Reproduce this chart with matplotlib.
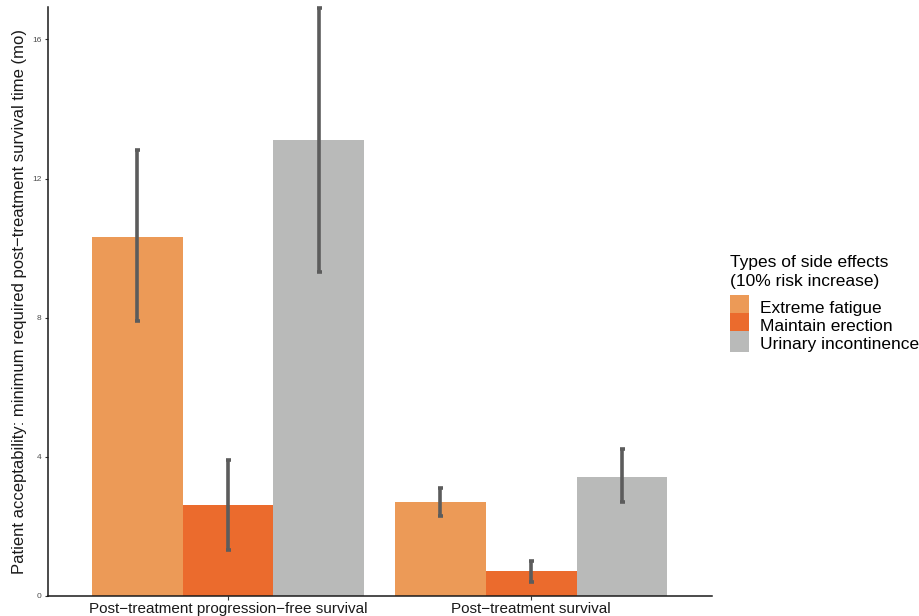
import numpy as np
import matplotlib
matplotlib.use("Agg")
import matplotlib.pyplot as plt
from matplotlib.patches import Patch, Rectangle
from matplotlib.legend_handler import HandlerPatch

plt.rcParams['font.family'] = ['Liberation Sans', 'DejaVu Sans']

# ---- data ----
groups = ["Post\u2212treatment progression\u2212free survival", "Post\u2212treatment survival"]
effects = ["Extreme fatigue", "Maintain erection", "Urinary incontinence"]
fatigue = [10.32, 2.70]
erection = [2.61, 0.72]
urinary = [13.10, 3.42]
fatigue_lo = [7.90, 2.30]
fatigue_hi = [12.82, 3.10]
erection_lo = [1.32, 0.40]
erection_hi = [3.90, 1.00]
urinary_lo = [9.31, 2.70]
urinary_hi = [16.90, 4.22]

colors = ["#EC9A57", "#EB6B2D", "#B9BAB9"]

fig = plt.figure(figsize=(9.2, 6.16), dpi=100)
ax = fig.add_axes([48 / 920, 20 / 616, (712 - 48) / 920, (596 - 7) / 616])

x = np.arange(1, len(groups) + 1)
w = 0.3
series = [(fatigue, fatigue_lo, fatigue_hi),
          (erection, erection_lo, erection_hi),
          (urinary, urinary_lo, urinary_hi)]
for i, (vals, lo, hi) in enumerate(series):
    pos = x + (i - 1) * w
    vals = np.array(vals)
    ax.bar(pos, vals, width=w, color=colors[i], edgecolor='none', zorder=1)
    yerr = [vals - np.array(lo), np.array(hi) - vals]
    ax.errorbar(pos, vals, yerr=yerr, fmt='none', ecolor='#5c5c5c',
                elinewidth=2.6, capsize=1.8, capthick=2.6, zorder=2, clip_on=False)

ax.set_xlim(0.406, 2.597)
ax.set_ylim(0, 16.93)
ax.set_yticks([0, 4, 8, 12, 16])
ax.set_xticks(x)
ax.set_xticklabels(groups, fontsize=11, color='#1a1a1a')
ax.tick_params(axis='y', labelsize=6, labelcolor='#4d4d4d', color='#333333',
               length=2.5, width=0.8, pad=2)
ax.tick_params(axis='x', color='#333333', length=3, width=0.8, pad=1)
ax.set_ylabel("Patient acceptability: minimum required post\u2212treatment survival time (mo)",
              fontsize=12, color='#1a1a1a', labelpad=4)

for s in ['top', 'right']:
    ax.spines[s].set_visible(False)
for s in ['left', 'bottom']:
    ax.spines[s].set_color('#1a1a1a')
    ax.spines[s].set_linewidth(1.1)


# legend keys fill the whole row, like ggplot's
def full_key(legend, orig_handle, xdescent, ydescent, width, height, fontsize):
    return Rectangle((-xdescent, -ydescent), width, height + ydescent)


handles = [Patch(facecolor=c, edgecolor='none') for c in colors]
leg = fig.legend(handles, effects, loc='upper left',
                 bbox_to_anchor=(730 / 920, 1 - 255 / 616),
                 title="Types of side effects\n(10% risk increase)",
                 frameon=False, fontsize=12.5, title_fontsize=12.5,
                 handlelength=1.1, handleheight=1.2, handletextpad=0.62,
                 labelspacing=0.0, borderpad=0, borderaxespad=0,
                 alignment='left',
                 handler_map={Patch: HandlerPatch(patch_func=full_key)})
leg.get_title().set_linespacing(1.3)
leg._legend_box.sep = 7

fig.savefig("out.png", dpi=100)
